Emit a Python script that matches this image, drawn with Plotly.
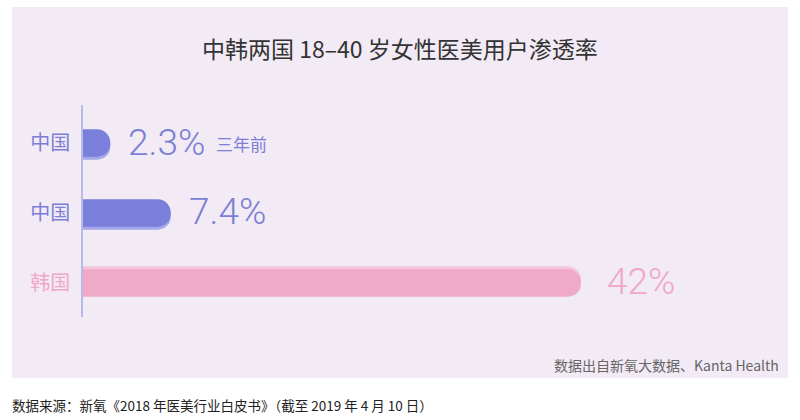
import plotly.graph_objects as go

# ---- data ----
countries = ["中国", "中国", "韩国"]
values = [2.3, 7.4, 42]
value_labels = ["2.3%", "7.4%", "42%"]
notes = ["三年前", "", ""]
bar_colors = ["#7b7fdc", "#7b7fdc", "#eeaac8"]
shadow_colors = ["#a4a7ea", "#a4a7ea", "#f4c6da"]
text_colors = ["#7b7fd6", "#7b7fd6", "#f0a8c6"]
title = "中韩两国 18–40 岁女性医美用户渗透率"
source_note = "数据出自新氧大数据、Kanta Health"
footer = "数据来源：新氧《2018 年医美行业白皮书》（截至 2019 年 4 月 10 日）"

W, H = 800, 420
L, R, T, B = 83, 12, 105, 103
PW, PH = W - L - R, H - T - B
UNIT = 70.0  # pixels per category step

def px(x):
    return (x - L) / PW

def py(y):
    return (H - B - y) / PH

ypos = list(range(len(values)))
CJK = "Noto Sans CJK SC, Noto Sans, sans-serif"
NUM = "Roboto, Liberation Sans, sans-serif"
BW = 0.39

fig = go.Figure()
# light edge band under / over each bar
shadow_offsets = [-BW / 2 + 3 / UNIT, -BW / 2 + 3 / UNIT, -BW / 2 - 3 / UNIT]
fig.add_trace(go.Bar(
    x=values, y=ypos, orientation="h",
    marker=dict(color=shadow_colors, cornerradius=13, line=dict(width=0)),
    width=BW, offset=shadow_offsets, hoverinfo="skip",
))
fig.add_trace(go.Bar(
    x=values, y=ypos, orientation="h",
    marker=dict(color=bar_colors, cornerradius=13, line=dict(width=0)),
    width=BW, offset=-BW / 2, hoverinfo="skip",
))

ticktext = [f'<span style="color:{c}">{n}</span>' for n, c in zip(countries, text_colors)]

annotations = []
for v, yv, lab, note, c in zip(values, ypos, value_labels, notes, text_colors):
    annotations.append(dict(x=v, y=yv, xref="x", yref="y", text=lab, showarrow=False,
                            xanchor="left", yanchor="middle", xshift=16 if v < 40 else 24, yshift=1,
                            font=dict(family=NUM, size=37, weight=300, color=c)))
    if note:
        annotations.append(dict(x=v, y=yv, xref="x", yref="y", text=note, showarrow=False,
                                xanchor="left", yanchor="middle", xshift=104,
                                font=dict(family=CJK, size=17, color=c)))

annotations += [
    dict(x=px(400), y=py(48), xref="paper", yref="paper", text=title, showarrow=False,
         xanchor="center", yanchor="middle", font=dict(family=CJK, size=23, color="#333333")),
    dict(x=px(781), y=py(365), xref="paper", yref="paper", text=source_note, showarrow=False,
         xanchor="right", yanchor="middle", font=dict(family=CJK, size=14, color="#666666")),
    dict(x=px(10), y=py(405), xref="paper", yref="paper", text=footer, showarrow=False,
         xanchor="left", yanchor="middle", font=dict(family=CJK, size=13.5, color="#222222")),
]

fig.update_layout(
    width=W, height=H,
    margin=dict(l=L, r=R, t=T, b=B, autoexpand=False),
    paper_bgcolor="white", plot_bgcolor="rgba(0,0,0,0)",
    showlegend=False, barmode="overlay",
    xaxis=dict(range=[0, 42 * PW / 498], visible=False, fixedrange=True, automargin=False),
    yaxis=dict(range=[2.486, -0.543], tickvals=ypos, ticktext=ticktext, automargin=False,
               showline=True, linecolor="#b9b9e6", linewidth=1.5, fixedrange=True,
               showgrid=False, zeroline=False, ticks="", ticklabelstandoff=7,
               tickfont=dict(family=CJK, size=20)),
    shapes=[dict(type="rect", xref="paper", yref="paper", x0=px(12), x1=px(788),
                 y0=py(378), y1=py(7), fillcolor="#f2eaf4", line=dict(width=0), layer="below")],
    annotations=annotations,
)

fig.write_html("out.html", config={"displayModeBar": False},
               post_script="document.body.style.margin='0';")
